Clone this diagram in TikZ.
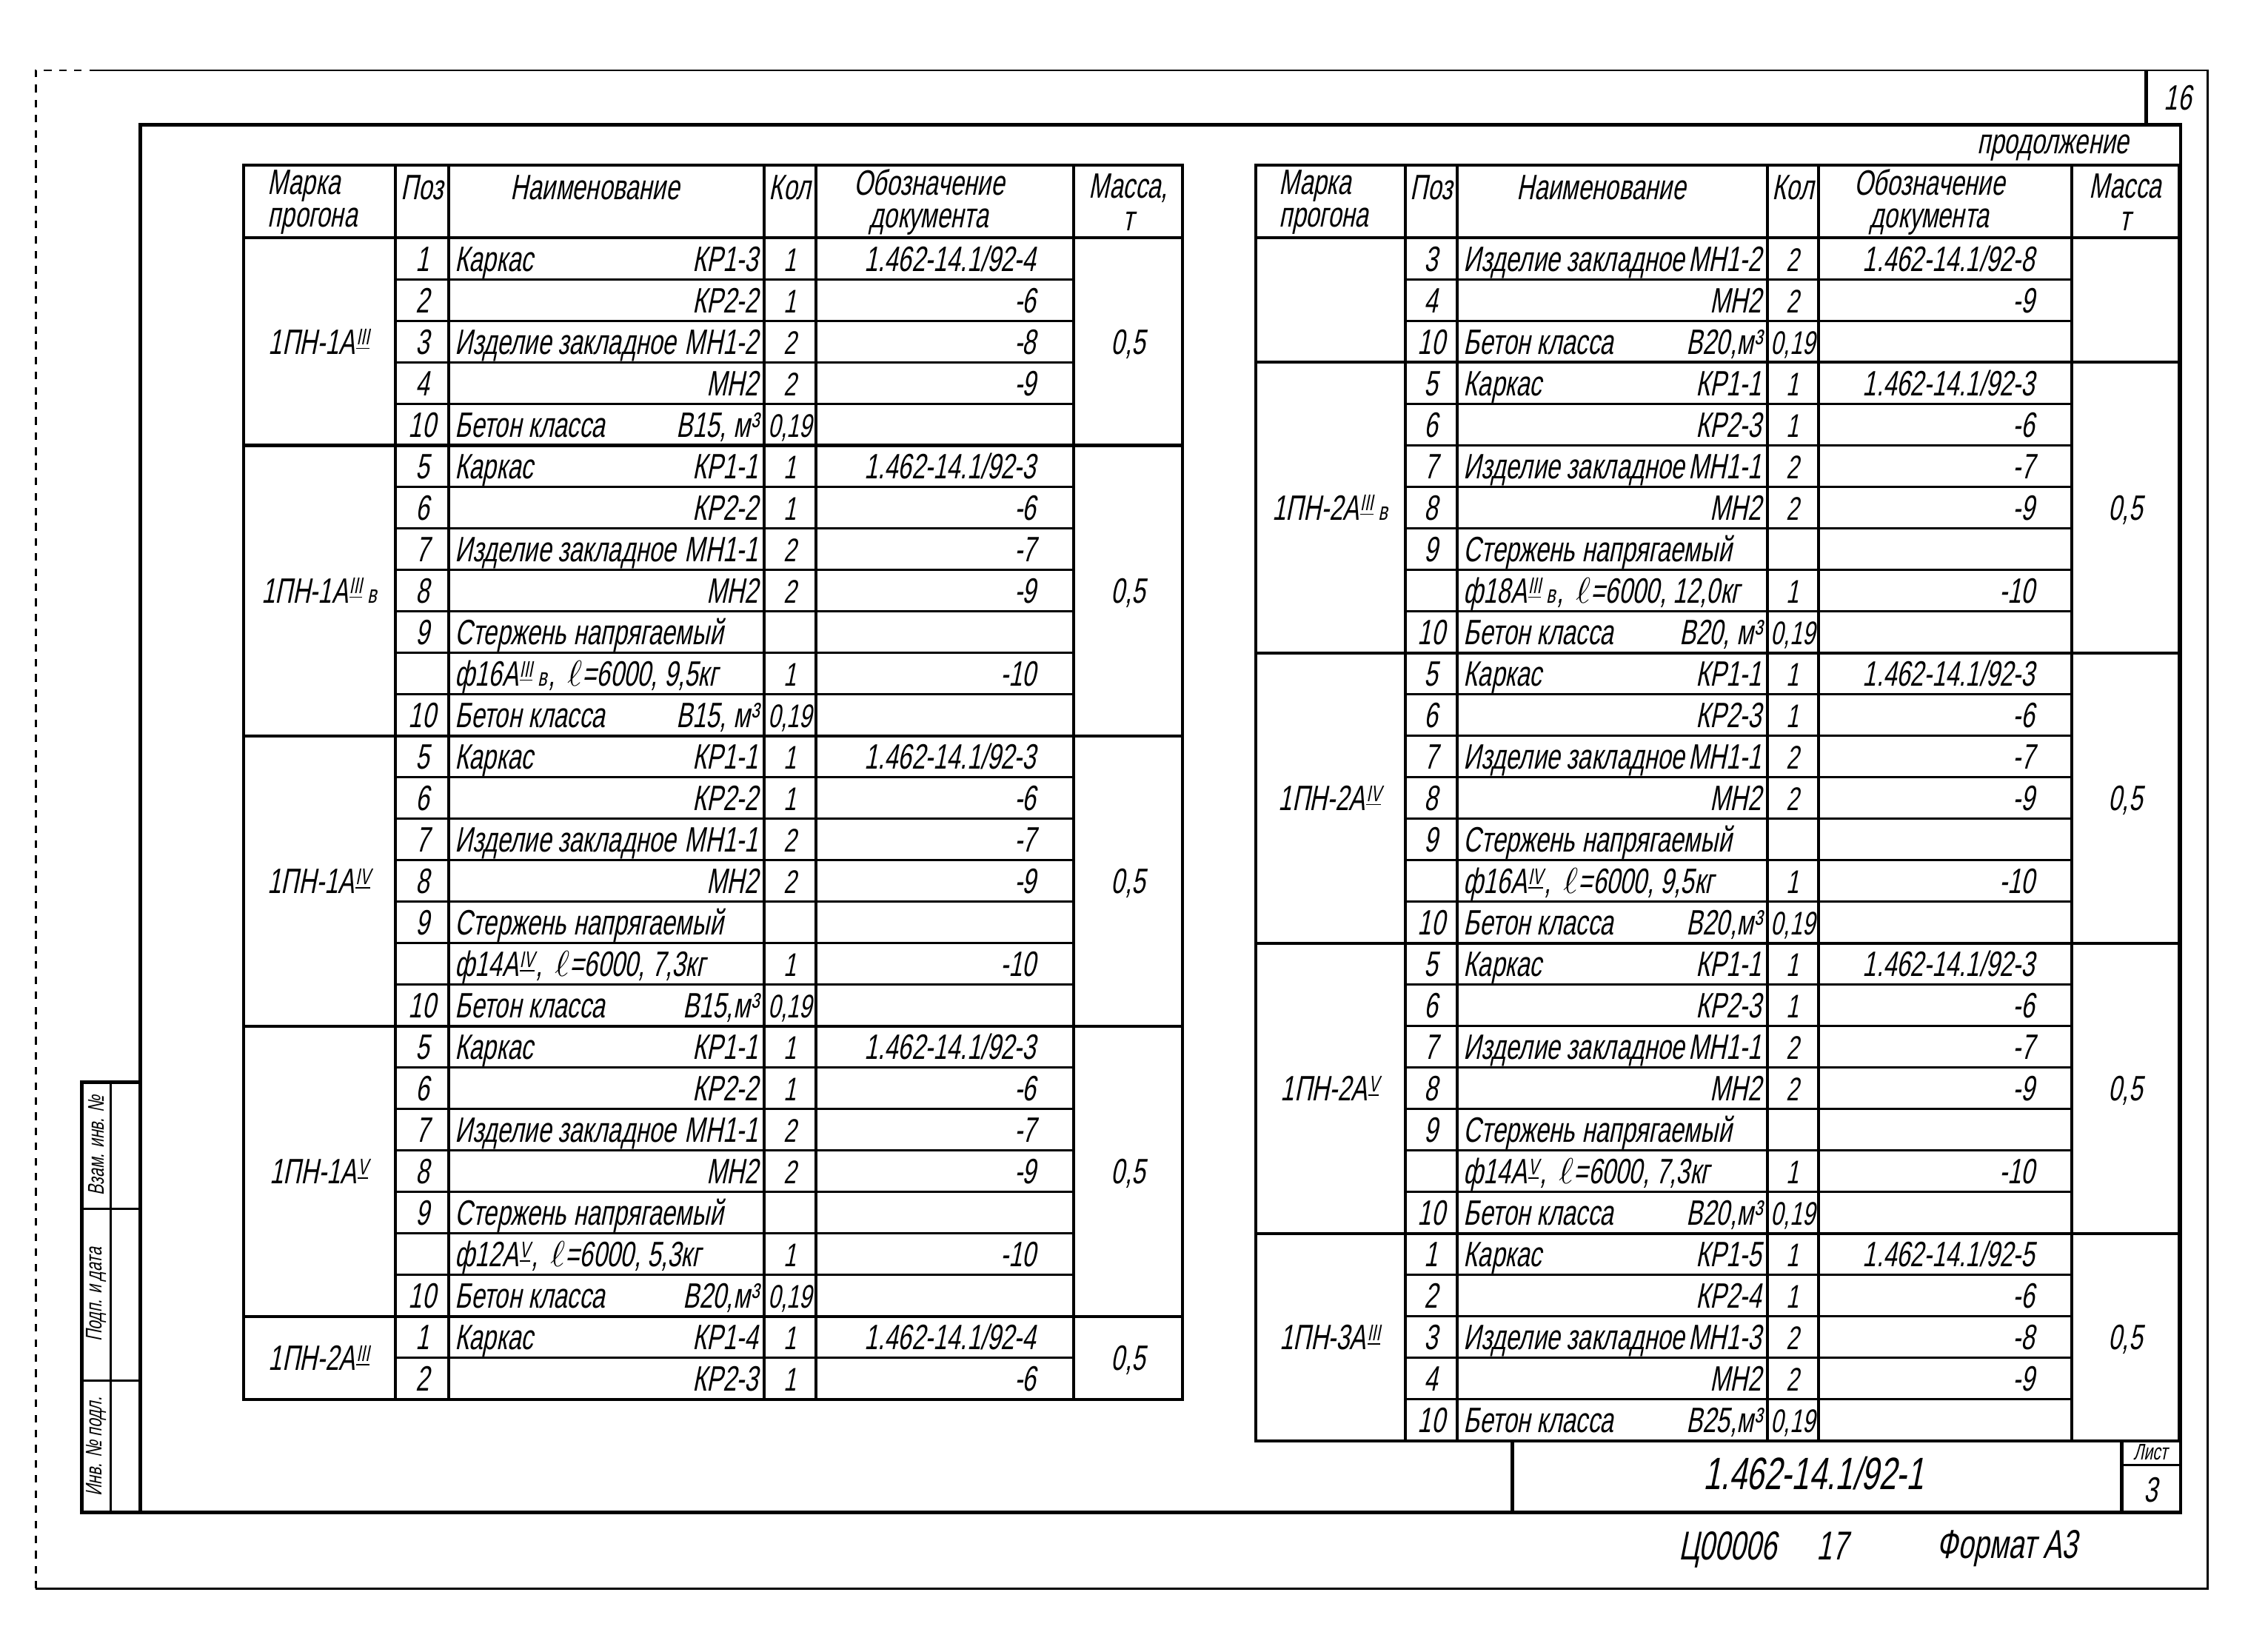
\documentclass[tikz,border=0pt]{standalone}
\usepackage{fontspec}
\setmainfont{Liberation Sans}
\newfontfamily\gost[FakeSlant=0.2,FakeStretch=0.69]{Liberation Sans}
\def\headbot{166}
\def\rowh{28.93}
% reinforcement class, small and underlined
\newcommand{\kl}[1]{\kern0.5pt\raisebox{0.5ex}{\fontsize{9}{9}\selectfont\underline{#1}}\kern0.5pt}
\newcommand{\klv}[1]{\kl{#1}\kern1.5pt{\fontsize{10}{10}\selectfont в}\kern0.5pt}
\newcommand{\lng}{\,$\ell$}
% one line of the specification
\newcommand{\specrow}[7]{%
  \pgfmathsetmacro\ry{\headbot+\rowh*(#2-0.5)}%
  \pgfmathsetmacro\rb{\headbot+\rowh*#2}%
  \node[cell] (#1-poz-#2) at (124.5,\ry) {#3};
  \node[cell,anchor=west] (#1-name-#2) at (147,\ry) {#4};
  \node[cell,anchor=east] (#1-item-#2) at (359,\ry) {#5};
  \node[cell,font=\gost\fontsize{13}{15}\selectfont] (#1-qty-#2) at (381,\ry) {#6};
  \node[cell,anchor=east] (#1-doc-#2) at (553,\ry) {#7};
  \draw[rowline] (106,\rb) -- (579,\rb);
}
% one purlin mark, rows #2..#3
\newcommand{\specgroup}[5]{%
  \pgfmathsetmacro\gt{\headbot+\rowh*(#2-1)}%
  \pgfmathsetmacro\gm{\headbot+\rowh*(#2+#3-1)/2}%
  \draw[tabline] (0,\gt) -- (655,\gt);
  \node[cell] (#1-purlin-#2) at (53,\gm) {#4};
  \node[cell] (#1-mass-#2) at (617,\gm) {#5};
}
% table frame and heading
\newcommand{\spectable}[3]{%
  \pgfmathsetmacro\tb{\headbot+\rowh*#2}%
  \draw[tabline] (0,115) rectangle (655,\tb);
  \foreach \x in {106,143,363,399,579} \draw[tabline] (\x,115) -- (\x,\tb);
  \node[head,align=left] (#1-h-mark) at (48,141) {Марка\\прогона};
  \node[head] (#1-h-poz) at (124.5,131) {Поз};
  \node[head] (#1-h-name) at (245,131) {Наименование};
  \node[head] (#1-h-qty) at (381,131) {Кол};
  \node[head,align=center] (#1-h-doc) at (478,141) {Обозначение\\документа};
  \node[head,align=center] (#1-h-mass) at (617,141) {#3};
}

\begin{document}
\begin{tikzpicture}[x=0.02cm,y=-0.02cm,
  cell/.style={font=\gost\fontsize{14}{16}\selectfont,inner sep=0pt,text height=10pt,text depth=0pt},
  head/.style={font=\gost\fontsize{14}{13}\selectfont,inner sep=0pt},
  small/.style={font=\gost\fontsize{9}{10}\selectfont,inner sep=0pt},
  tabline/.style={line width=1.2pt},
  rowline/.style={line width=0.9pt},
  frame/.style={line width=1.4pt},
  trim/.style={line width=0.8pt}]
\useasboundingbox (0,0) rectangle (1568,1152);

% sheet border
\draw[trim] (65,49) -- (1540,49) -- (1540,1108) -- (25,1108);
\draw[trim,dashed] (25,1108) -- (25,49) -- (65,49);
\draw[frame] (98,87) rectangle (1521,1055);
\draw[frame] (1497,49) -- (1497,87);
\node[cell] (sheetno) at (1519,68) {16};

% side stamp
\draw[frame] (57,755) rectangle (98,1055);
\draw[rowline] (77,755) -- (77,1055);
\draw[rowline] (57,843) -- (98,843);
\draw[rowline] (57,963) -- (98,963);
\node[small,rotate=90] (st-1) at (67,799) {Взам. инв. №};
\node[small,rotate=90] (st-2) at (67,903) {Подп. и дата};
\node[small,rotate=90] (st-3) at (67,1009) {Инв. № подл.};

% left table
\begin{scope}[shift={(170,0)}]
  \spectable{L}{28}{Масса,\\т}
  \specgroup{L}{1}{5}{1ПН-1А\kl{III}}{0,5}
  \specrow{L}{1}{1}{Каркас}{КР1-3}{1}{1.462-14.1/92-4}
  \specrow{L}{2}{2}{}{КР2-2}{1}{-6}
  \specrow{L}{3}{3}{Изделие закладное}{МН1-2}{2}{-8}
  \specrow{L}{4}{4}{}{МН2}{2}{-9}
  \specrow{L}{5}{10}{Бетон класса}{В15, м³}{0,19}{}
  \specgroup{L}{6}{12}{1ПН-1А\klv{III}}{0,5}
  \specrow{L}{6}{5}{Каркас}{КР1-1}{1}{1.462-14.1/92-3}
  \specrow{L}{7}{6}{}{КР2-2}{1}{-6}
  \specrow{L}{8}{7}{Изделие закладное}{МН1-1}{2}{-7}
  \specrow{L}{9}{8}{}{МН2}{2}{-9}
  \specrow{L}{10}{9}{Стержень напрягаемый}{}{}{}
  \specrow{L}{11}{}{ф16А\klv{III}, \lng=6000, 9,5кг}{}{1}{-10}
  \specrow{L}{12}{10}{Бетон класса}{В15, м³}{0,19}{}
  \specgroup{L}{13}{19}{1ПН-1А\kl{IV}}{0,5}
  \specrow{L}{13}{5}{Каркас}{КР1-1}{1}{1.462-14.1/92-3}
  \specrow{L}{14}{6}{}{КР2-2}{1}{-6}
  \specrow{L}{15}{7}{Изделие закладное}{МН1-1}{2}{-7}
  \specrow{L}{16}{8}{}{МН2}{2}{-9}
  \specrow{L}{17}{9}{Стержень напрягаемый}{}{}{}
  \specrow{L}{18}{}{ф14А\kl{IV}, \lng=6000, 7,3кг}{}{1}{-10}
  \specrow{L}{19}{10}{Бетон класса}{В15,м³}{0,19}{}
  \specgroup{L}{20}{26}{1ПН-1А\kl{V}}{0,5}
  \specrow{L}{20}{5}{Каркас}{КР1-1}{1}{1.462-14.1/92-3}
  \specrow{L}{21}{6}{}{КР2-2}{1}{-6}
  \specrow{L}{22}{7}{Изделие закладное}{МН1-1}{2}{-7}
  \specrow{L}{23}{8}{}{МН2}{2}{-9}
  \specrow{L}{24}{9}{Стержень напрягаемый}{}{}{}
  \specrow{L}{25}{}{ф12А\kl{V}, \lng=6000, 5,3кг}{}{1}{-10}
  \specrow{L}{26}{10}{Бетон класса}{В20,м³}{0,19}{}
  \specgroup{L}{27}{28}{1ПН-2А\kl{III}}{0,5}
  \specrow{L}{27}{1}{Каркас}{КР1-4}{1}{1.462-14.1/92-4}
  \specrow{L}{28}{2}{}{КР2-3}{1}{-6}
\end{scope}

% right table
\node[head] (cont) at (1432,103) {продолжение};
\begin{scope}[shift={(876,0)},xscale=0.983]
  \spectable{R}{29}{Масса\\т}
  \specgroup{R}{1}{3}{}{}
  \specrow{R}{1}{3}{Изделие закладное}{МН1-2}{2}{1.462-14.1/92-8}
  \specrow{R}{2}{4}{}{МН2}{2}{-9}
  \specrow{R}{3}{10}{Бетон класса}{В20,м³}{0,19}{}
  \specgroup{R}{4}{10}{1ПН-2А\klv{III}}{0,5}
  \specrow{R}{4}{5}{Каркас}{КР1-1}{1}{1.462-14.1/92-3}
  \specrow{R}{5}{6}{}{КР2-3}{1}{-6}
  \specrow{R}{6}{7}{Изделие закладное}{МН1-1}{2}{-7}
  \specrow{R}{7}{8}{}{МН2}{2}{-9}
  \specrow{R}{8}{9}{Стержень напрягаемый}{}{}{}
  \specrow{R}{9}{}{ф18А\klv{III}, \lng=6000, 12,0кг}{}{1}{-10}
  \specrow{R}{10}{10}{Бетон класса}{В20, м³}{0,19}{}
  \specgroup{R}{11}{17}{1ПН-2А\kl{IV}}{0,5}
  \specrow{R}{11}{5}{Каркас}{КР1-1}{1}{1.462-14.1/92-3}
  \specrow{R}{12}{6}{}{КР2-3}{1}{-6}
  \specrow{R}{13}{7}{Изделие закладное}{МН1-1}{2}{-7}
  \specrow{R}{14}{8}{}{МН2}{2}{-9}
  \specrow{R}{15}{9}{Стержень напрягаемый}{}{}{}
  \specrow{R}{16}{}{ф16А\kl{IV}, \lng=6000, 9,5кг}{}{1}{-10}
  \specrow{R}{17}{10}{Бетон класса}{В20,м³}{0,19}{}
  \specgroup{R}{18}{24}{1ПН-2А\kl{V}}{0,5}
  \specrow{R}{18}{5}{Каркас}{КР1-1}{1}{1.462-14.1/92-3}
  \specrow{R}{19}{6}{}{КР2-3}{1}{-6}
  \specrow{R}{20}{7}{Изделие закладное}{МН1-1}{2}{-7}
  \specrow{R}{21}{8}{}{МН2}{2}{-9}
  \specrow{R}{22}{9}{Стержень напрягаемый}{}{}{}
  \specrow{R}{23}{}{ф14А\kl{V}, \lng=6000, 7,3кг}{}{1}{-10}
  \specrow{R}{24}{10}{Бетон класса}{В20,м³}{0,19}{}
  \specgroup{R}{25}{29}{1ПН-3А\kl{III}}{0,5}
  \specrow{R}{25}{1}{Каркас}{КР1-5}{1}{1.462-14.1/92-5}
  \specrow{R}{26}{2}{}{КР2-4}{1}{-6}
  \specrow{R}{27}{3}{Изделие закладное}{МН1-3}{2}{-8}
  \specrow{R}{28}{4}{}{МН2}{2}{-9}
  \specrow{R}{29}{10}{Бетон класса}{В25,м³}{0,19}{}
\end{scope}

% title block
\draw[frame] (1055,1005) -- (1055,1055);
\draw[frame] (1480,1005) -- (1480,1055);
\draw[rowline] (1480,1022) -- (1521,1022);
\node[small] (sheet-h) at (1500,1013) {Лист};
\node[cell] (sheet) at (1500,1039) {3};
\node[cell,font=\gost\fontsize{18}{20}\selectfont] (docno) at (1265,1030) {1.462-14.1/92-1};

% below the frame
\node[cell,font=\gost\fontsize{16}{18}\selectfont] (inv) at (1205,1079) {Ц00006};
\node[cell,font=\gost\fontsize{16}{18}\selectfont] (page) at (1278,1079) {17};
\node[cell,font=\gost\fontsize{16}{18}\selectfont] (fmt) at (1400,1078) {Формат А3};
\end{tikzpicture}
\end{document}
